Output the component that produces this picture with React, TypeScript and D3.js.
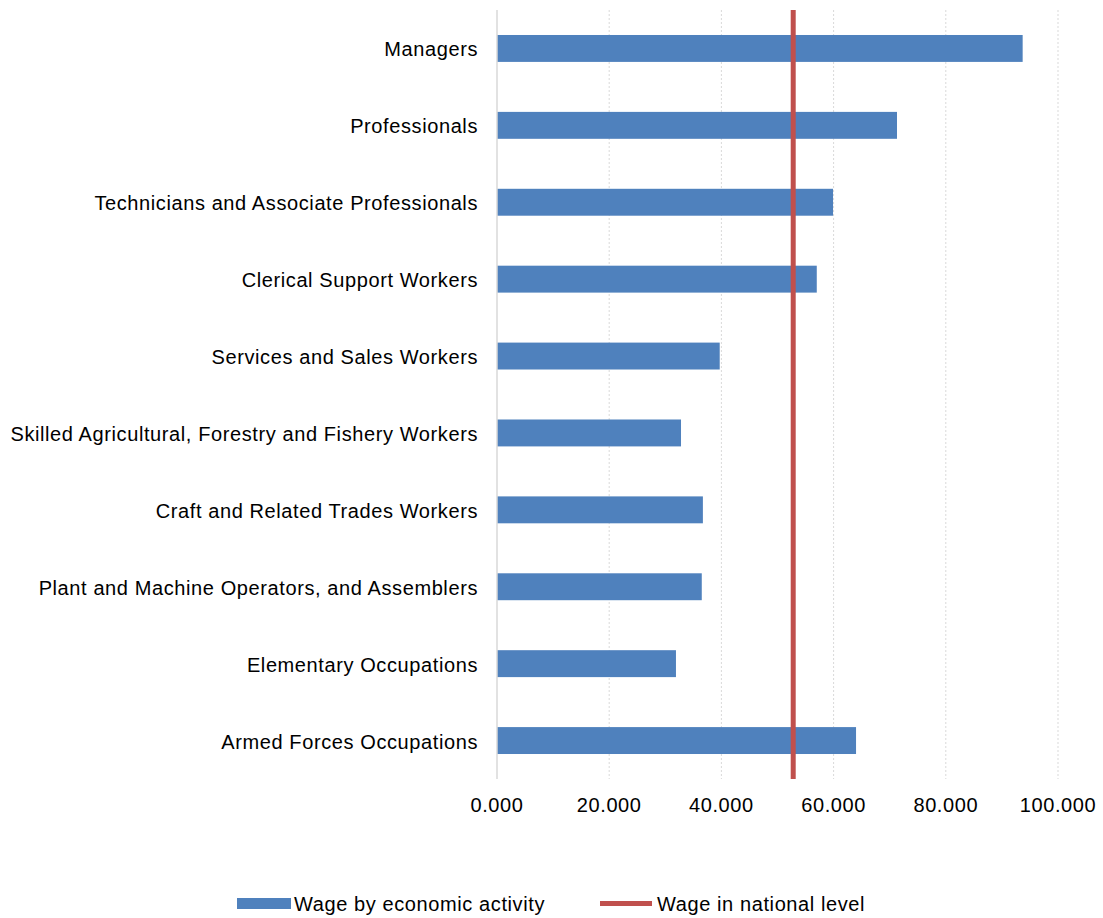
import React from "react";
import * as d3 from "d3";

const categories = [
  "Managers",
  "Professionals",
  "Technicians and Associate Professionals",
  "Clerical Support Workers",
  "Services and Sales Workers",
  "Skilled Agricultural, Forestry and Fishery Workers",
  "Craft and Related Trades Workers",
  "Plant and Machine Operators, and Assemblers",
  "Elementary Occupations",
  "Armed Forces Occupations",
];
const wageByActivity = [93.7, 71.3, 59.9, 57.0, 39.7, 32.8, 36.7, 36.5, 31.9, 64.0];
const nationalWage = 52.8;
const xTicks = [0, 20, 40, 60, 80, 100];
const seriesNames = ["Wage by economic activity", "Wage in national level"];

const W = 1103;
const H = 918;
const left = 497;
const right = 1058;
const top = 10;
const bottom = 779;
const font = "Arial, 'Liberation Sans', sans-serif";
const fs = 20;
const ls = 0.6;
const blue = "#4f81bd";
const red = "#c0504d";

export default function App() {
  const x = d3.scaleLinear().domain([0, 100]).range([left, right]);
  const y = d3.scaleBand<string>().domain(categories).range([top, bottom]).paddingInner(0.65).paddingOuter(0.325);
  const fmt = d3.format(".3f");
  return (
    <svg width={W} height={H} style={{ position: "absolute", left: 0, top: 0 }}>
      <rect width={W} height={H} fill="#fff" />
      {xTicks.slice(1).map((t) => (
        <line key={t} x1={x(t)} x2={x(t)} y1={top} y2={bottom} stroke="#d9d9d9" strokeWidth={1} strokeDasharray="2,2" />
      ))}
      {categories.map((c, i) => (
        <rect key={c} x={x(0)} y={y(c)} width={x(wageByActivity[i]) - x(0)} height={y.bandwidth()} fill={blue} />
      ))}
      <line x1={x(0)} x2={x(0)} y1={top} y2={bottom} stroke="#d9d9d9" strokeWidth={1.5} />
      <line x1={x(nationalWage)} x2={x(nationalWage)} y1={top} y2={bottom} stroke={red} strokeWidth={5} />
      {categories.map((c) => (
        <text key={c} x={478} y={(y(c) as number) + y.bandwidth() / 2 + 1} dy="0.35em" textAnchor="end" fontFamily={font} fontSize={fs} letterSpacing={ls} fill="#000">
          {c}
        </text>
      ))}
      {xTicks.map((t) => (
        <text key={t} x={x(t)} y={805} dy="0.35em" textAnchor="middle" fontFamily={font} fontSize={fs} letterSpacing={ls} fill="#000">
          {fmt(t)}
        </text>
      ))}
      <rect x={237} y={898} width={54} height={11} fill={blue} />
      <text x={294} y={903.5} dy="0.35em" fontFamily={font} fontSize={fs} letterSpacing={ls} fill="#000">{seriesNames[0]}</text>
      <line x1={600} x2={652} y1={903.5} y2={903.5} stroke={red} strokeWidth={5} />
      <text x={657} y={903.5} dy="0.35em" fontFamily={font} fontSize={fs} letterSpacing={ls} fill="#000">{seriesNames[1]}</text>
    </svg>
  );
}
